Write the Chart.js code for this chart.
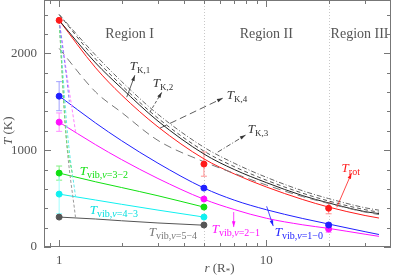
<!DOCTYPE html>
<html>
<head>
<meta charset="utf-8">
<script src="https://cdn.jsdelivr.net/npm/chart.js@4"></script>
<style>
  html, body { margin: 0; padding: 0; background: #fff; }
  #wrap { width: 395px; height: 276px; }
</style>
</head>
<body>
<div id="wrap"><canvas id="myChart" width="395" height="276"></canvas></div>
<script>
'use strict';

// model curves (r in stellar radii, T in K)
const rCurve = [1, 1.5, 2, 3, 5, 7, 10, 15, 20, 30, 35];
const tRot   = [2340, 1850, 1570, 1240, 910, 755, 620, 490, 412, 325, 299];
const tK1    = [2340, 1900, 1640, 1300, 960, 800, 665, 530, 455, 365, 345];
const tK2    = [2400, 1940, 1670, 1330, 990, 830, 690, 555, 475, 385, 360];
const tK3    = [2400, 1980, 1710, 1370, 1030, 865, 720, 580, 500, 405, 380];
const tK4    = [2050, 1600, 1390, 1100, 880, 760, 640, 520, 450, 360, 335];
const tVib10 = [1559, 1280, 1098, 865, 609, 484, 385, 294, 237, 158, 129];
const tVib21 = [1289, 1056, 903, 707, 493, 387, 297, 229, 192, 132, 110];

const rShort = [1, 1.5, 2, 3, 5];
const tVib32 = [763, 673, 614, 529, 412];
const tVib43 = [546, 485, 441, 381, 309];
const tVib54 = [309, 289, 271, 248, 225];

// inner dashed parts
const rIn10 = [1, 1.09, 1.12];   const tIn10 = [2340, 1720, 1500];
const rIn21 = [1, 1.1, 1.2];     const tIn21 = [2340, 1720, 1190];
const rIn32 = [1, 1.08, 1.16];   const tIn32 = [2340, 1150, 745];
const rIn43 = [1, 1.1, 1.2];     const tIn43 = [2340, 1150, 520];
const rIn54 = [1, 1.08, 1.2];    const tIn54 = [2340, 1150, 300];

// observed points
const rObs   = [1, 5, 20];
const obsRot = [2340, 856, 400];   const errRot = [0, 125, 57];
const obsV10 = [1557, 608, 227];   const errV10 = [150, 0, 20];
const obsV21 = [1289, 495, 186];   const errV21 = [95, 0, 35];
const rObs2  = [1, 5];
const obsV32 = [763, 412];         const errV32 = [73, 0];
const obsV43 = [546, 309];         const errV43 = [200, 0];
const obsV54 = [309, 227];         const errV54 = [0, 0];

const regionBounds = [5, 20];
const xTicksMajor = [1, 10];
const yTicksMajor = [0, 1000, 2000];

const RED = '#ff1a1a', BLUE = '#2020ff', MAG = '#ff10ff', GREEN = '#10e010', CYAN = '#10f0f0', GRAY = '#555555';
const SERIF = '"Liberation Serif", "DejaVu Serif", serif';

function pts(xs, ys) {
    return xs.map((x, i) => ({ x: x, y: ys[i] }));
}

function curve(xs, ys, color, dash, width) {
    return {
        data: pts(xs, ys), borderColor: color, borderWidth: width || 1, borderDash: dash || [],
        pointRadius: 0, fill: false, cubicInterpolationMode: 'monotone', order: 2
    };
}

function obs(xs, ys, errs, color, light) {
    return {
        data: pts(xs, ys), showLine: false, pointRadius: 3, pointBackgroundColor: color,
        pointBorderColor: color, borderColor: color, errs: errs, errColor: light, order: 0
    };
}

const datasets = [
    curve(rIn10, tIn10, '#8080ff', [3, 2]),
    curve(rIn21, tIn21, '#ff80ff', [3, 2]),
    curve(rIn32, tIn32, '#70e070', [3, 2]),
    curve(rIn43, tIn43, '#60e8e8', [3, 2]),
    curve(rIn54, tIn54, '#999999', [3, 2]),
    curve(rCurve, tK3, '#666', [5, 2, 1, 2]),
    curve(rCurve, tK2, '#555', [4, 3]),
    curve(rCurve, tK4, '#777', [8, 5]),
    curve(rCurve, tK1, '#222'),
    curve(rCurve, tRot, RED),
    curve(rCurve, tVib10, BLUE),
    curve(rCurve, tVib21, MAG),
    curve(rShort, tVib32, GREEN),
    curve(rShort, tVib43, CYAN),
    curve(rShort, tVib54, GRAY),
    obs(rObs, obsRot, errRot, RED, '#ff9090'),
    obs(rObs, obsV10, errV10, BLUE, '#a0a0ff'),
    obs(rObs, obsV21, errV21, MAG, '#ff90ff'),
    obs(rObs2, obsV32, errV32, GREEN, '#80f080'),
    obs(rObs2, obsV43, errV43, CYAN, '#a0ffff'),
    obs(rObs2, obsV54, errV54, GRAY, '#aaaaaa')
];

// text pieces: [text, italic, size, dy]
function rich(ctx, x, y, parts, color) {
    ctx.save();
    ctx.fillStyle = color;
    ctx.textBaseline = 'alphabetic';
    ctx.textAlign = 'left';
    let cx = x;
    parts.forEach(p => {
        ctx.font = (p[1] ? 'italic ' : '') + p[2] + 'px ' + SERIF;
        ctx.fillText(p[0], cx, y + (p[3] || 0));
        cx += ctx.measureText(p[0]).width;
    });
    ctx.restore();
}

function arrow(ctx, x1, y1, x2, y2, color, dash) {
    ctx.save();
    ctx.strokeStyle = color;
    ctx.fillStyle = color;
    ctx.lineWidth = 0.8;
    ctx.setLineDash(dash || []);
    ctx.beginPath();
    ctx.moveTo(x1, y1);
    ctx.lineTo(x2, y2);
    ctx.stroke();
    ctx.setLineDash([]);
    const a = Math.atan2(y2 - y1, x2 - x1);
    ctx.beginPath();
    ctx.moveTo(x2, y2);
    ctx.lineTo(x2 - 6 * Math.cos(a - 0.3), y2 - 6 * Math.sin(a - 0.3));
    ctx.lineTo(x2 - 6 * Math.cos(a + 0.3), y2 - 6 * Math.sin(a + 0.3));
    ctx.closePath();
    ctx.fill();
    ctx.restore();
}

const labels = [
    { r: 2.19, t: 1825, parts: [['T', true, 13], ['K,1', false, 9, 3]], color: '#333',
      arr: [2.12, 1547, 2.32, 1773], dash: [] },
    { r: 2.83, t: 1650, parts: [['T', true, 13], ['K,2', false, 9, 3]], color: '#333',
      arr: [2.74, 1392, 3.13, 1598], dash: [3, 2] },
    { r: 6.44, t: 1526, parts: [['T', true, 13], ['K,4', false, 9, 3]], color: '#333',
      arr: [3.07, 1227, 6.16, 1536], dash: [7, 4] },
    { r: 8.13, t: 1175, parts: [['T', true, 13], ['K,3', false, 9, 3]], color: '#333',
      arr: [5.83, 980, 7.94, 1155], dash: [5, 2, 1, 2] },
    { r: 23.1, t: 773, parts: [['T', true, 13], ['rot', false, 10, 3]], color: RED,
      arr: [21.9, 410, 25.8, 763], dash: [] },
    { r: 5.45, t: 144, parts: [['T', true, 13], ['vib,', false, 10, 3], ['v', true, 10, 3], ['=2\u22121', false, 10, 3]], color: MAG,
      arr: [6.96, 361, 6.96, 206], dash: [] },
    { r: 10.98, t: 113, parts: [['T', true, 13], ['vib,', false, 10, 3], ['v', true, 10, 3], ['=1\u22120', false, 10, 3]], color: BLUE,
      arr: [10.04, 420, 10.8, 216], dash: [] },
    { r: 1.258, t: 742, parts: [['T', true, 13], ['vib,', false, 10, 3], ['v', true, 10, 3], ['=3\u22122', false, 10, 3]], color: GREEN },
    { r: 1.406, t: 340, parts: [['T', true, 13], ['vib,', false, 10, 3], ['v', true, 10, 3], ['=4\u22123', false, 10, 3]], color: '#00dede' },
    { r: 2.71, t: 113, parts: [['T', true, 13], ['vib,', false, 10, 3], ['v', true, 10, 3], ['=5\u22124', false, 10, 3]], color: '#777' }
];

const regionNames = [
    { r: 2.19, name: 'Region I' },
    { r: 10, name: 'Region II' },
    { r: 28.2, name: 'Region III' }
];

const decor = {
    id: 'decor',
    beforeDatasetsDraw(chart) {
        const ctx = chart.ctx, xs = chart.scales.x, ys = chart.scales.y, a = chart.chartArea;
        ctx.save();
        ctx.strokeStyle = '#c8c8c8';
        ctx.lineWidth = 1;
        ctx.setLineDash([1, 2]);
        regionBounds.forEach(v => {
            const px = Math.round(xs.getPixelForValue(v)) + 0.5;
            ctx.beginPath();
            ctx.moveTo(px, a.top);
            ctx.lineTo(px, a.bottom);
            ctx.stroke();
        });
        ctx.setLineDash([]);
        // error bars
        chart.data.datasets.forEach(ds => {
            if (!ds.errs) return;
            ctx.strokeStyle = ds.errColor;
            ds.data.forEach((p, i) => {
                const e = ds.errs[i];
                if (!e) return;
                const px = xs.getPixelForValue(p.x);
                const y1 = ys.getPixelForValue(p.y - e), y2 = ys.getPixelForValue(p.y + e);
                ctx.beginPath();
                ctx.moveTo(px, y1); ctx.lineTo(px, y2);
                ctx.moveTo(px - 3, y1); ctx.lineTo(px + 3, y1);
                ctx.moveTo(px - 3, y2); ctx.lineTo(px + 3, y2);
                ctx.stroke();
            });
        });
        ctx.restore();
    },
    afterDraw(chart) {
        const ctx = chart.ctx, xs = chart.scales.x, ys = chart.scales.y, a = chart.chartArea;
        ctx.save();
        ctx.strokeStyle = '#777';
        ctx.lineWidth = 1;
        ctx.strokeRect(a.left + 0.5, a.top + 0.5, a.right - a.left - 1, a.bottom - a.top - 1);
        ctx.beginPath();
        for (let v = 0; v <= 2400; v += 200) {
            const py = Math.round(ys.getPixelForValue(v)) + 0.5;
            const len = yTicksMajor.includes(v) ? 7 : 4;
            ctx.moveTo(a.left, py); ctx.lineTo(a.left + len, py);
            ctx.moveTo(a.right, py); ctx.lineTo(a.right - len, py);
        }
        const xt = [0.9, 1, 2, 3, 4, 5, 6, 7, 8, 9, 10, 20, 30];
        xt.forEach(v => {
            const px = Math.round(xs.getPixelForValue(v)) + 0.5;
            const len = xTicksMajor.includes(v) ? 7 : 4;
            ctx.moveTo(px, a.bottom); ctx.lineTo(px, a.bottom - len);
            ctx.moveTo(px, a.top); ctx.lineTo(px, a.top + len);
        });
        ctx.stroke();

        // region names
        ctx.fillStyle = '#555';
        ctx.font = '14px ' + SERIF;
        ctx.textAlign = 'center';
        ctx.textBaseline = 'middle';
        regionNames.forEach(g => {
            ctx.fillText(g.name, xs.getPixelForValue(g.r), ys.getPixelForValue(2200));
        });

        // annotations
        labels.forEach(l => {
            if (l.arr) {
                arrow(ctx, xs.getPixelForValue(l.arr[0]), ys.getPixelForValue(l.arr[1]),
                    xs.getPixelForValue(l.arr[2]), ys.getPixelForValue(l.arr[3]), l.color, l.dash);
            }
            rich(ctx, xs.getPixelForValue(l.r), ys.getPixelForValue(l.t), l.parts, l.color);
        });

        // axis titles
        const cx = (a.left + a.right) / 2;
        ctx.font = 'italic 13px ' + SERIF;
        const w1 = ctx.measureText('r ').width;
        ctx.font = '13px ' + SERIF;
        const w2 = ctx.measureText('(R').width, w3 = ctx.measureText(')').width;
        ctx.font = '9px ' + SERIF;
        const w4 = ctx.measureText('*').width;
        const sx = cx - (w1 + w2 + w3 + w4) / 2 + 2;
        rich(ctx, sx, 272, [['r ', true, 13], ['(R', false, 13], ['*', false, 9, 2], [')', false, 13]], '#555');

        ctx.translate(12, 145);
        ctx.rotate(-Math.PI / 2);
        rich(ctx, 0, 0, [['T', true, 13], [' (K)', false, 13]], '#555');
        ctx.restore();
    }
};

new Chart(document.getElementById('myChart'), {
    type: 'line',
    data: { datasets: datasets },
    options: {
        responsive: false,
        animation: false,
        devicePixelRatio: 1,
        layout: { autoPadding: false, padding: { left: 0, right: 4, top: 0, bottom: 0 } },
        plugins: { legend: { display: false }, tooltip: { enabled: false } },
        scales: {
            x: {
                type: 'logarithmic', min: 0.845, max: 40,
                grid: { display: false, drawTicks: false },
                border: { display: false },
                afterBuildTicks: s => { s.ticks = xTicksMajor.map(v => ({ value: v })); },
                afterFit: s => { s.height = 29; s.paddingLeft = 0; s.paddingRight = 0; },
                ticks: {
                    color: '#555', font: { family: SERIF, size: 13 }, padding: 6,
                    autoSkip: false, maxRotation: 0, callback: v => String(v)
                }
            },
            y: {
                min: 0, max: 2550,
                grid: { display: false, drawTicks: false },
                border: { display: false },
                afterBuildTicks: s => { s.ticks = yTicksMajor.map(v => ({ value: v })); },
                afterFit: s => { s.width = 44; s.paddingTop = 0; s.paddingBottom = 0; },
                ticks: {
                    color: '#555', font: { family: SERIF, size: 13 }, padding: 7,
                    callback: v => String(v)
                }
            }
        }
    },
    plugins: [decor]
});
</script>
</body>
</html>
